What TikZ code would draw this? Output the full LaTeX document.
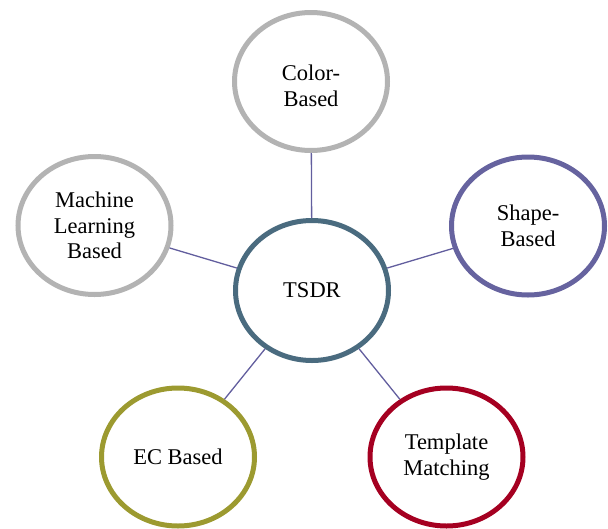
\documentclass[tikz,border=0pt]{standalone}
\usepackage{fontspec}
\setmainfont{Liberation Serif}
\usetikzlibrary{shapes.geometric}
\definecolor{hubcol}{HTML}{4A6B7F}
\definecolor{graycol}{HTML}{B3B3B3}
\definecolor{shapecol}{HTML}{66639F}
\definecolor{tmcol}{HTML}{A50021}
\definecolor{eccol}{HTML}{9C9A30}
\definecolor{linkcol}{HTML}{625E9E}
\tikzset{
  bubble/.style={ellipse, draw=#1, line width=5pt, fill=white,
    minimum width=153pt, minimum height=138pt, inner sep=0pt,
    align=center, font=\fontsize{22.5}{25.5}\selectfont},
  link/.style={draw=linkcol, line width=1.3pt}
}
\begin{document}
\begin{tikzpicture}[x=1pt,y=1pt]
\useasboundingbox (0,0) rectangle (608,-528);
\node[bubble=hubcol, minimum height=140pt] (hub) at (312,-290.5) {TSDR};
\node[bubble=graycol] (color) at (311,-81.5) {\raisebox{-7pt}[\height][\depth]{\begin{tabular}{@{}c@{}}Color-\\Based\end{tabular}}};
\node[bubble=shapecol] (shape) at (528,-226) {Shape-\\Based};
\node[bubble=graycol] (ml) at (94.5,-225.5) {Machine\\Learning\\Based};
\node[bubble=eccol] (ec) at (178,-457) {EC Based};
\node[bubble=tmcol] (tm) at (446.5,-457) {Template\\Matching};
\draw[link] (hub) -- (color);
\draw[link] (hub) -- (shape);
\draw[link] (hub) -- (ml);
\draw[link] (hub) -- (ec);
\draw[link] (hub) -- (tm);
\end{tikzpicture}
\end{document}
